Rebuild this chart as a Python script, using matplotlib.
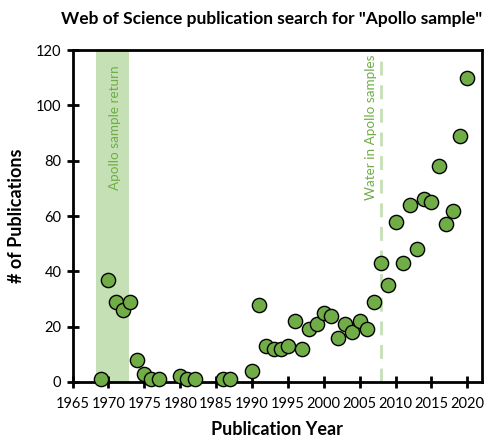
import numpy as np
import matplotlib.pyplot as plt

plt.rcParams['font.family'] = ['Lato', 'DejaVu Sans']

years = [1969, 1970, 1971, 1972, 1973, 1974, 1975, 1976, 1977, 1980, 1981, 1982,
         1986, 1987, 1990, 1991, 1992, 1993, 1994, 1995, 1996, 1997, 1998, 1999,
         2000, 2001, 2002, 2003, 2004, 2005, 2006, 2007, 2008, 2009, 2010, 2011,
         2012, 2013, 2014, 2015, 2016, 2017, 2018, 2019, 2020]
pubs = [1, 37, 29, 26, 29, 8, 3, 1, 1, 2, 1, 1,
        1, 1, 4, 28, 13, 12, 12, 13, 22, 12, 19, 21,
        25, 24, 16, 21, 18, 22, 19, 29, 43, 35, 58, 43,
        64, 48, 66, 65, 78, 57, 62, 89, 110]

return_span = (1968.3, 1972.9)   # Apollo sample return
water_year = 2008                # water in Apollo samples

green = '#70ad47'
light = '#c5e0b4'

fig = plt.figure(figsize=(4.9, 4.4), dpi=100)
ax = fig.add_axes([0.148, 0.132, 0.835, 0.754])

ax.axvspan(return_span[0], return_span[1], color=light, zorder=0, lw=0)
ax.axvline(water_year, color=light, lw=2, ls=(0, (5, 3.5)), zorder=1)

ax.scatter(years, pubs, s=105, color=green, edgecolor='black', linewidth=1.0, zorder=3, clip_on=False)

ax.text(1970.9, 92, 'Apollo sample return', rotation=90, color=green,
        ha='center', va='center', fontsize=9.7)
ax.text(2006.6, 92, 'Water in Apollo samples', rotation=90, color=green,
        ha='center', va='center', fontsize=9.7)

ax.set_xlim(1965, 2022)
ax.set_ylim(0, 120)
ax.set_xticks(np.arange(1965, 2021, 5))
ax.set_yticks(np.arange(0, 121, 20))
ax.tick_params(direction='inout', length=8, width=2, labelsize=10.5)
ax.tick_params(axis='x', pad=7)
ax.tick_params(axis='y', pad=4)
for s in ax.spines.values():
    s.set_linewidth(2)

ax.set_xlabel('Publication Year', fontsize=13, fontweight='bold', labelpad=7)
ax.set_ylabel('# of Publications', fontsize=13, fontweight='bold', labelpad=8)
fig.suptitle('Web of Science publication search for "Apollo sample"', fontsize=12.5,
             fontweight='bold', x=0.555, y=0.975)

fig.savefig('out.png')
